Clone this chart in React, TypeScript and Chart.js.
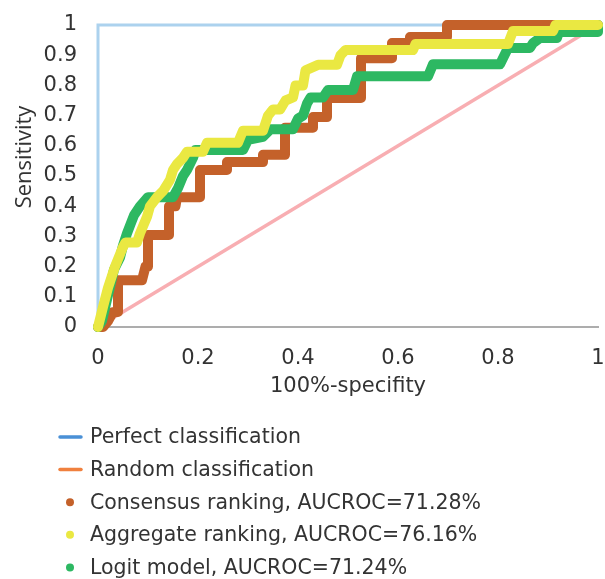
import { useEffect, useRef } from "react";
import { Chart, registerables } from "chart.js";

Chart.register(...registerables);

const seriesNames = [
  "Perfect classification",
  "Random classification",
  "Consensus ranking, AUCROC=71.28%",
  "Aggregate ranking, AUCROC=76.16%",
  "Logit model, AUCROC=71.24%",
];
const xTitle = "100%-specifity";
const yTitle = "Sensitivity";

const xTickValues = [0, 0.2, 0.4, 0.6, 0.8, 1];
const xTickLabels = ["0", "0.2", "0.4", "0.6", "0.8", "1"];
const yTickValues = [0, 0.1, 0.2, 0.3, 0.4, 0.5, 0.6, 0.7, 0.8, 0.9, 1];
const yTickLabels = ["0", "0.1", "0.2", "0.3", "0.4", "0.5", "0.6", "0.7", "0.8", "0.9", "1"];

// [100%-specificity, sensitivity]
const perfect: number[][] = [[0, 0], [0, 1], [1, 1]];
const random: number[][] = [[0, 0], [1, 1]];
const consensus: number[][] = [
  [0, 0], [0.01, 0], [0.02, 0.02], [0.03, 0.05], [0.04, 0.05], [0.04, 0.155],
  [0.088, 0.155], [0.095, 0.2], [0.1, 0.2], [0.1, 0.305], [0.142, 0.305],
  [0.142, 0.4], [0.155, 0.4], [0.158, 0.43], [0.204, 0.43], [0.204, 0.52],
  [0.258, 0.52], [0.258, 0.546], [0.33, 0.546], [0.33, 0.57], [0.374, 0.57],
  [0.374, 0.66], [0.43, 0.66], [0.43, 0.695], [0.458, 0.695], [0.458, 0.758],
  [0.526, 0.758], [0.526, 0.89], [0.588, 0.89], [0.588, 0.94], [0.624, 0.94],
  [0.624, 0.96], [0.698, 0.96], [0.698, 1], [1, 1],
];
const aggregate: number[][] = [
  [0, 0], [0.01, 0.066], [0.02, 0.13], [0.034, 0.2], [0.05, 0.265], [0.055, 0.28],
  [0.078, 0.28], [0.084, 0.31], [0.098, 0.365], [0.104, 0.4], [0.118, 0.43],
  [0.13, 0.45], [0.144, 0.487], [0.15, 0.52], [0.158, 0.54], [0.17, 0.56],
  [0.178, 0.58], [0.21, 0.58], [0.218, 0.61], [0.28, 0.61], [0.29, 0.65],
  [0.33, 0.65], [0.34, 0.7], [0.35, 0.72], [0.364, 0.72], [0.375, 0.75],
  [0.39, 0.76], [0.395, 0.8], [0.41, 0.8], [0.415, 0.85], [0.44, 0.868],
  [0.478, 0.868], [0.485, 0.9], [0.495, 0.917], [0.63, 0.917], [0.635, 0.937],
  [0.82, 0.937], [0.83, 0.98], [0.91, 0.98], [0.915, 1], [1, 1],
];
const logit: number[][] = [
  [0, 0], [0.008, 0.02], [0.015, 0.07], [0.025, 0.14], [0.032, 0.19], [0.044, 0.23],
  [0.05, 0.27], [0.058, 0.31], [0.065, 0.34], [0.072, 0.37], [0.084, 0.4],
  [0.1, 0.43], [0.15, 0.43], [0.16, 0.46], [0.17, 0.5], [0.178, 0.52],
  [0.19, 0.56], [0.195, 0.586], [0.29, 0.586], [0.3, 0.62], [0.33, 0.63],
  [0.345, 0.655], [0.39, 0.655], [0.4, 0.69], [0.41, 0.7], [0.418, 0.74],
  [0.425, 0.76], [0.45, 0.76], [0.46, 0.785], [0.51, 0.785], [0.518, 0.83],
  [0.66, 0.83], [0.67, 0.87], [0.804, 0.87], [0.82, 0.924], [0.864, 0.924],
  [0.87, 0.94], [0.884, 0.957], [0.918, 0.957], [0.922, 0.977], [1, 0.977], [1, 1],
];

const lineColors = ["#ACD2EE", "#F8AEB2", "#C4612A", "#EAE842", "#2DB862"];
const legendColors = ["#4A90D6", "#F0803E", "#C4612A", "#EAE842", "#2DB862"];
const legendKinds = ["line", "line", "dot", "dot", "dot"];
const TEXT = "#333333";

const toPts = (a: number[][]) => a.map(([x, y]) => ({ x, y }));

const overlay = {
  id: "overlay",
  afterDraw(chart: any) {
    const ctx = chart.ctx as CanvasRenderingContext2D;
    const ca = chart.chartArea;
    ctx.save();
    ctx.fillStyle = TEXT;
    // axis titles
    ctx.font = '21px "DejaVu Sans"';
    ctx.textAlign = "center";
    ctx.textBaseline = "middle";
    ctx.fillText(xTitle, (ca.left + ca.right) / 2, ca.bottom + 60);
    ctx.save();
    ctx.translate(25, ca.top + 132);
    ctx.rotate(-Math.PI / 2);
    ctx.font = '22px "Open Sans"';
    ctx.fillText(yTitle, 0, 0);
    ctx.restore();
    // legend
    const x0 = 59;
    const y0 = ca.bottom + 110;
    const step = 32.6;
    ctx.font = '20.5px "DejaVu Sans"';
    ctx.textAlign = "left";
    seriesNames.forEach((name, i) => {
      const y = y0 + i * step;
      if (legendKinds[i] === "line") {
        ctx.strokeStyle = legendColors[i];
        ctx.lineWidth = 3.5;
        ctx.lineCap = "round";
        ctx.beginPath();
        ctx.moveTo(x0 + 1, y);
        ctx.lineTo(x0 + 22, y);
        ctx.stroke();
      } else {
        ctx.fillStyle = legendColors[i];
        ctx.beginPath();
        ctx.arc(x0 + 11, y, 4, 0, Math.PI * 2);
        ctx.fill();
      }
      ctx.fillStyle = TEXT;
      ctx.fillText(name, x0 + 31, y + 1);
    });
    ctx.restore();
  },
};

const zeroPadding = (s: any) => {
  s.paddingLeft = 0;
  s.paddingRight = 0;
  s.paddingTop = 0;
  s.paddingBottom = 0;
};

export default function App() {
  const ref = useRef<HTMLCanvasElement>(null);
  useEffect(() => {
    document.body.style.margin = "0";
    const canvas = ref.current!;
    const curve = (i: number, data: number[][], order: number) => ({
      label: seriesNames[i],
      data: toPts(data),
      showLine: true,
      borderColor: lineColors[i],
      backgroundColor: lineColors[i],
      borderWidth: 10,
      pointRadius: 0,
      borderJoinStyle: "round" as const,
      borderCapStyle: "round" as const,
      clip: false as const,
      order,
    });
    const chart = new Chart(canvas, {
      type: "scatter",
      data: {
        datasets: [
          {
            label: seriesNames[0],
            data: toPts(perfect),
            showLine: true,
            borderColor: lineColors[0],
            borderWidth: 3,
            pointRadius: 0,
            clip: false as const,
            order: 5,
          },
          {
            label: seriesNames[1],
            data: toPts(random),
            showLine: true,
            borderColor: lineColors[1],
            borderWidth: 3.5,
            pointRadius: 0,
            clip: false as const,
            order: 4,
          },
          curve(2, consensus, 3),
          curve(3, aggregate, 1),
          curve(4, logit, 2),
        ],
      },
      options: {
        responsive: false,
        animation: false,
        devicePixelRatio: 1,
        layout: { padding: { top: 25, right: 7, bottom: 182, left: 0 } },
        plugins: { legend: { display: false }, tooltip: { enabled: false } },
        scales: {
          x: {
            type: "linear",
            min: 0,
            max: 1,
            afterFit: (s: any) => {
              s.height = 70;
              zeroPadding(s);
            },
            afterBuildTicks: (s: any) => {
              s.ticks = xTickValues.map((v) => ({ value: v }));
            },
            grid: { display: false, drawTicks: false },
            border: { display: true, color: "#ADADAD", width: 2 },
            ticks: {
              padding: 19,
              color: TEXT,
              font: { family: "DejaVu Sans", size: 21 },
              maxRotation: 0,
              autoSkip: false,
              callback: (v: any) => xTickLabels[xTickValues.indexOf(Number(v))] ?? "",
            },
          },
          y: {
            type: "linear",
            min: 0,
            max: 1,
            afterFit: (s: any) => {
              s.width = 98;
              zeroPadding(s);
            },
            afterBuildTicks: (s: any) => {
              s.ticks = yTickValues.map((v) => ({ value: v }));
            },
            grid: { display: false, drawTicks: false },
            border: { display: false },
            ticks: {
              padding: 21,
              color: TEXT,
              font: { family: "DejaVu Sans", size: 21 },
              autoSkip: false,
              callback: (v: any) => yTickLabels[yTickValues.indexOf(Number(v))] ?? "",
            },
          },
        },
      },
      plugins: [overlay],
    });
    return () => chart.destroy();
  }, []);
  return <canvas ref={ref} width={605} height={579} style={{ display: "block" }} />;
}
